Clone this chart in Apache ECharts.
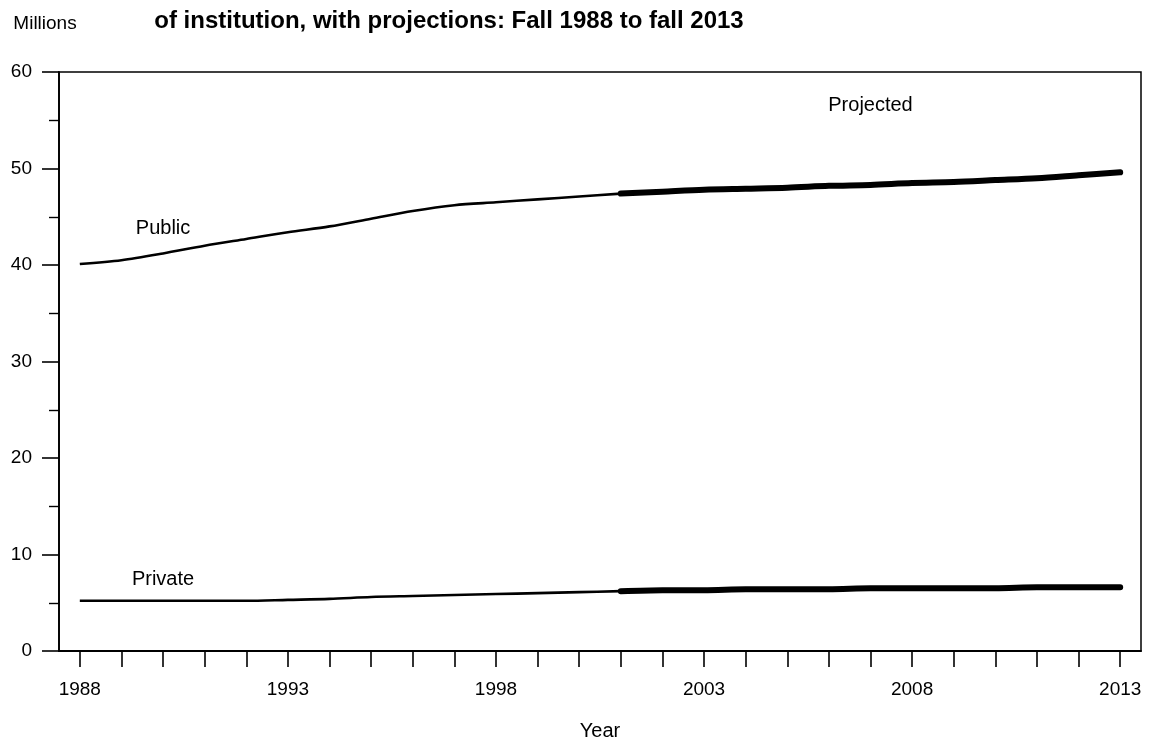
<!DOCTYPE html>
<html>
<head>
<meta charset="utf-8">
<script src="https://cdn.jsdelivr.net/npm/echarts@6/dist/echarts.min.js"></script>
<style>
html,body{margin:0;padding:0;background:#fff;}
#c{width:1152px;height:746px;}
</style>
</head>
<body>
<div id="c"></div>
<script>
// ---- data ----
const years = ['1988','1989','1990','1991','1992','1993','1994','1995','1996','1997','1998','1999','2000',
               '2001','2002','2003','2004','2005','2006','2007','2008','2009','2010','2011','2012','2013'];
// actual 1988-2001
const publicActual  = [40.1, 40.5, 41.2, 42.0, 42.7, 43.4, 44.0, 44.8, 45.6, 46.2, 46.5, 46.8, 47.1, 47.4];
const privateActual = [5.2, 5.2, 5.2, 5.2, 5.2, 5.3, 5.4, 5.6, 5.7, 5.8, 5.9, 6.0, 6.1, 6.2];
// projected 2002-2013
const publicProjected  = [47.6, 47.8, 47.9, 48.0, 48.2, 48.3, 48.5, 48.6, 48.8, 49.0, 49.3, 49.6];
const privateProjected = [6.3, 6.3, 6.4, 6.4, 6.4, 6.5, 6.5, 6.5, 6.5, 6.6, 6.6, 6.6];
const yMin = 0, yMax = 60, yStep = 10;
const titleText = 'of institution, with projections: Fall 1988 to fall 2013';
const yUnitText = 'Millions';
const xNameText = 'Year';
const lineLabels = [
  {text: 'Public',    year: 1989.9, value: 43.8},
  {text: 'Private',   year: 1989.9, value: 7.4},
  {text: 'Projected', year: 2006.9, value: 56.5}
];

// ---- build series arrays ----
const nAct = publicActual.length;
function actualSeries(arr) {
  return arr.concat(new Array(years.length - arr.length).fill(null));
}
function projectedSeries(act, proj) {
  return new Array(nAct - 1).fill(null).concat([act[act.length - 1]]).concat(proj);
}

const FONT = "'Liberation Sans', Arial, Helvetica, sans-serif";
const chart = echarts.init(document.getElementById('c'), null, {renderer: 'canvas'});

const thin = {color: '#000', width: 2.6};
const thick = {color: '#000', width: 6, cap: 'round', join: 'round'};

chart.setOption({
  animation: false,
  backgroundColor: '#fff',
  grid: {left: 59, right: 11, top: 72, bottom: 93, show: true, borderColor: '#000', borderWidth: 1.5, backgroundColor: 'transparent'},
  xAxis: {
    type: 'category',
    data: years,
    boundaryGap: true,
    name: xNameText,
    nameLocation: 'middle',
    nameGap: 70,
    nameTextStyle: {color: '#000', fontSize: 20, fontFamily: FONT},
    axisLine: {show: true, lineStyle: {color: '#000', width: 1.8}},
    axisTick: {show: true, alignWithLabel: true, interval: 0, length: 16, lineStyle: {color: '#000', width: 1.6}},
    axisLabel: {interval: 4, margin: 29, color: '#000', fontSize: 19, fontFamily: FONT},
    splitLine: {show: false}
  },
  yAxis: {
    type: 'value',
    min: yMin, max: yMax, interval: yStep,
    axisLine: {show: true, lineStyle: {color: '#000', width: 1.8}},
    axisTick: {show: true, length: 17, lineStyle: {color: '#000', width: 1.6}},
    minorTick: {show: true, splitNumber: 2, length: 10, lineStyle: {color: '#000', width: 1.4}},
    axisLabel: {margin: 27, color: '#000', fontSize: 19, fontFamily: FONT},
    splitLine: {show: false},
    minorSplitLine: {show: false}
  },
  series: [
    {name: 'Public', type: 'line', data: actualSeries(publicActual), smooth: 0.3, showSymbol: false, lineStyle: thin, z: 3},
    {name: 'Public projected', type: 'line', data: projectedSeries(publicActual, publicProjected), smooth: 0.3, showSymbol: false, lineStyle: thick, z: 4},
    {name: 'Private', type: 'line', data: actualSeries(privateActual), smooth: 0.3, showSymbol: false, lineStyle: thin, z: 3},
    {name: 'Private projected', type: 'line', data: projectedSeries(privateActual, privateProjected), smooth: 0.3, showSymbol: false, lineStyle: thick, z: 4}
  ]
});

// text annotations positioned through the chart's own coordinate system
const graphics = [
  {type: 'text', left: 449, top: 21, style: {text: titleText, fill: '#000', font: 'bold 24px ' + FONT, textAlign: 'center', textVerticalAlign: 'middle'}},
  {type: 'text', x: 45, y: 24, style: {text: yUnitText, fill: '#000', font: '19px ' + FONT, textAlign: 'center', textVerticalAlign: 'middle'}}
];
graphics[0] = {type: 'text', x: 449, y: 21, style: {text: titleText, fill: '#000', font: 'bold 24px ' + FONT, textAlign: 'center', textVerticalAlign: 'middle'}};
lineLabels.forEach(function (l) {
  const p = chart.convertToPixel({gridIndex: 0}, [l.year - 1988, l.value]);
  graphics.push({type: 'text', x: p[0], y: p[1], style: {text: l.text, fill: '#000', font: '20px ' + FONT, textAlign: 'center', textVerticalAlign: 'middle'}});
});
chart.setOption({graphic: graphics});
</script>
</body>
</html>
